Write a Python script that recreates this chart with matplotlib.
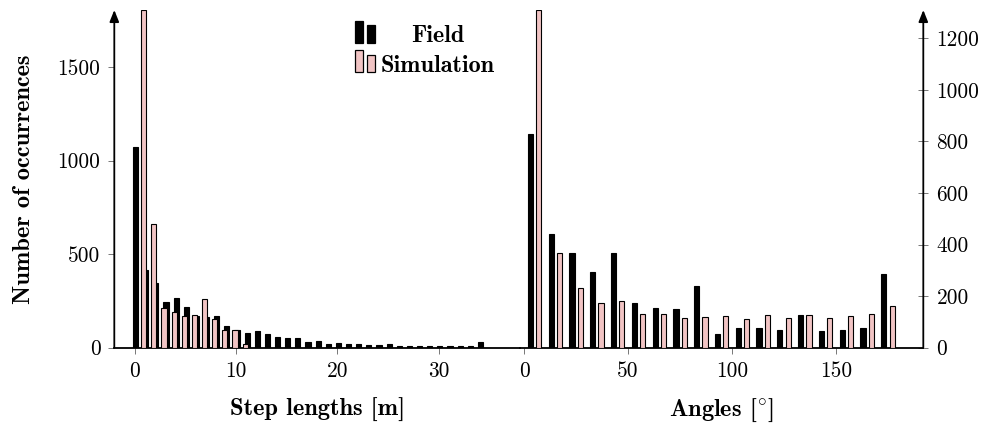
import matplotlib
matplotlib.use('Agg')
import matplotlib.pyplot as plt
import numpy as np
from matplotlib.patches import Rectangle

plt.rcParams['mathtext.fontset'] = 'cm'
plt.rcParams['axes.unicode_minus'] = False

# ---------------- data ----------------
step_field = [1071, 415, 344, 246, 267, 219, 170, 165, 168, 115, 95, 77, 91, 71, 59,
              53, 50, 29, 37, 21, 23, 18, 21, 14, 13, 18, 11, 9, 11, 11, 9, 7, 7, 7, 30]
step_sim = [1805, 660, 210, 190, 169, 176, 258, 155, 97, 97, 22, 0, 0, 0, 0,
            0, 0, 0, 0, 0, 0, 0, 0, 0, 0, 0, 0, 0, 0, 0, 0, 0, 0, 0, 0]
angle_field = [829, 443, 366, 292, 366, 175, 153, 149, 241, 54, 75, 77, 67, 126, 64, 68, 78, 285]
angle_sim = [1310, 368, 230, 172, 181, 132, 132, 117, 118, 122, 111, 126, 117, 127, 117, 124, 130, 163]
step_bin_width = 1
angle_bin_width = 10
step_xticks = [0, 10, 20, 30]
angle_xticks = [0, 50, 100, 150]
left_yticks = [0, 500, 1000, 1500]
right_yticks = [0, 200, 400, 600, 800, 1000, 1200]
legend_labels = ['Field', 'Simulation']
xlabel_left = 'Step lengths [m]'
xlabel_right = r'Angles [$^{\circ}$]'
ylabel = 'Number of occurrences'

PINK = '#f1c4c4'
TICKFONT = dict(family='cmr10', size=15.4)
LABELFONT = dict(family='cmb10', size=17.6)
LEGFONT = dict(family='cmb10', size=17.4)

W, H = 994, 423
fig = plt.figure(figsize=(W / 100, H / 100), dpi=100)

y0, y1 = 347.7, 10.0
axL = fig.add_axes([114.3 / W, (H - y0) / H, (520 - 114.3) / W, (y0 - y1) / H])
axR = fig.add_axes([520 / W, (H - y0) / H, (923.3 - 520) / W, (y0 - y1) / H])


def draw(ax, field, sim, bw, shift, width):
    n = len(field)
    centers = np.arange(n) * bw + bw / 2
    ax.bar(centers - shift, field, width=width, color='black', edgecolor='black',
           linewidth=0.8, zorder=2)
    ax.bar(centers + shift, sim, width=width, color=PINK, edgecolor='black',
           linewidth=0.8, zorder=3)


draw(axL, step_field, step_sim, step_bin_width, 0.4, 0.5)
draw(axR, angle_field, angle_sim, angle_bin_width, 2.0, 2.5)

axL.set_xlim(-2, 38)
axL.set_ylim(0, max(step_sim))
axR.set_xlim(-2, 192)
axR.set_ylim(0, max(angle_sim))

for ax in (axL, axR):
    ax.spines['top'].set_visible(False)
    ax.spines['bottom'].set_linewidth(1.3)
    ax.set_facecolor('none')

axL.spines['right'].set_visible(False)
axL.spines['left'].set_visible(False)
axR.spines['left'].set_visible(False)
axR.spines['right'].set_visible(False)

arrow = dict(arrowstyle='-|>,head_length=0.7,head_width=0.28', color='black',
             lw=1.3, shrinkA=0, shrinkB=0, mutation_scale=10)
axL.annotate('', xy=(0, 1.0), xytext=(0, 0), xycoords='axes fraction',
             textcoords='axes fraction', arrowprops=arrow, annotation_clip=False)
axR.annotate('', xy=(1, 1.0), xytext=(1, 0), xycoords='axes fraction',
             textcoords='axes fraction', arrowprops=arrow, annotation_clip=False)

axL.set_xticks(step_xticks)
axL.set_xticklabels([str(t) for t in step_xticks], fontdict=TICKFONT)
axL.set_yticks(left_yticks)
axL.set_yticklabels([str(t) for t in left_yticks], fontdict=TICKFONT)
axR.set_xticks(angle_xticks)
axR.set_xticklabels([str(t) for t in angle_xticks], fontdict=TICKFONT)
axR.yaxis.tick_right()
axR.set_yticks(right_yticks)
axR.set_yticklabels([str(t) for t in right_yticks], fontdict=TICKFONT)

for ax in (axL, axR):
    ax.tick_params(axis='x', direction='out', length=4, width=0.7, color='#777777', pad=6)
axL.tick_params(axis='y', direction='out', length=4, width=0.7, color='#777777', pad=6)
axR.tick_params(axis='y', direction='inout', length=7, width=0.7, color='#777777', pad=6)

fig.text((114.3 + 520) / 2 / W, 1 - 410 / H, xlabel_left, ha='center', va='center',
         fontdict=LABELFONT)
fig.text((520 + 923.3) / 2 / W, 1 - 410 / H, xlabel_right, ha='center', va='center',
         fontdict=LABELFONT)
fig.text(24 / W, 1 - 179.5 / H, ylabel, ha='center', va='center', rotation=90,
         fontdict=LABELFONT)

# legend (manual, pgfplots ybar style)
def legend_entry(ytop_tall, ytop_short, ybase, face, label, ybaseline):
    for (xl, xr, yt) in ((355, 362.5, ytop_tall), (367, 374.5, ytop_short)):
        fig.patches.append(Rectangle((xl / W, 1 - ybase / H), (xr - xl) / W,
                                     (ybase - yt) / H, transform=fig.transFigure,
                                     facecolor=face, edgecolor='black', linewidth=0.9))
    fig.text(438 / W, 1 - ybaseline / H, label, ha='center', va='baseline',
             fontdict=LEGFONT)

legend_entry(21, 25.5, 43.3, 'black', legend_labels[0], 42.5)
legend_entry(50, 55.5, 71.7, PINK, legend_labels[1], 71.5)

fig.savefig('out.png', dpi=100)
